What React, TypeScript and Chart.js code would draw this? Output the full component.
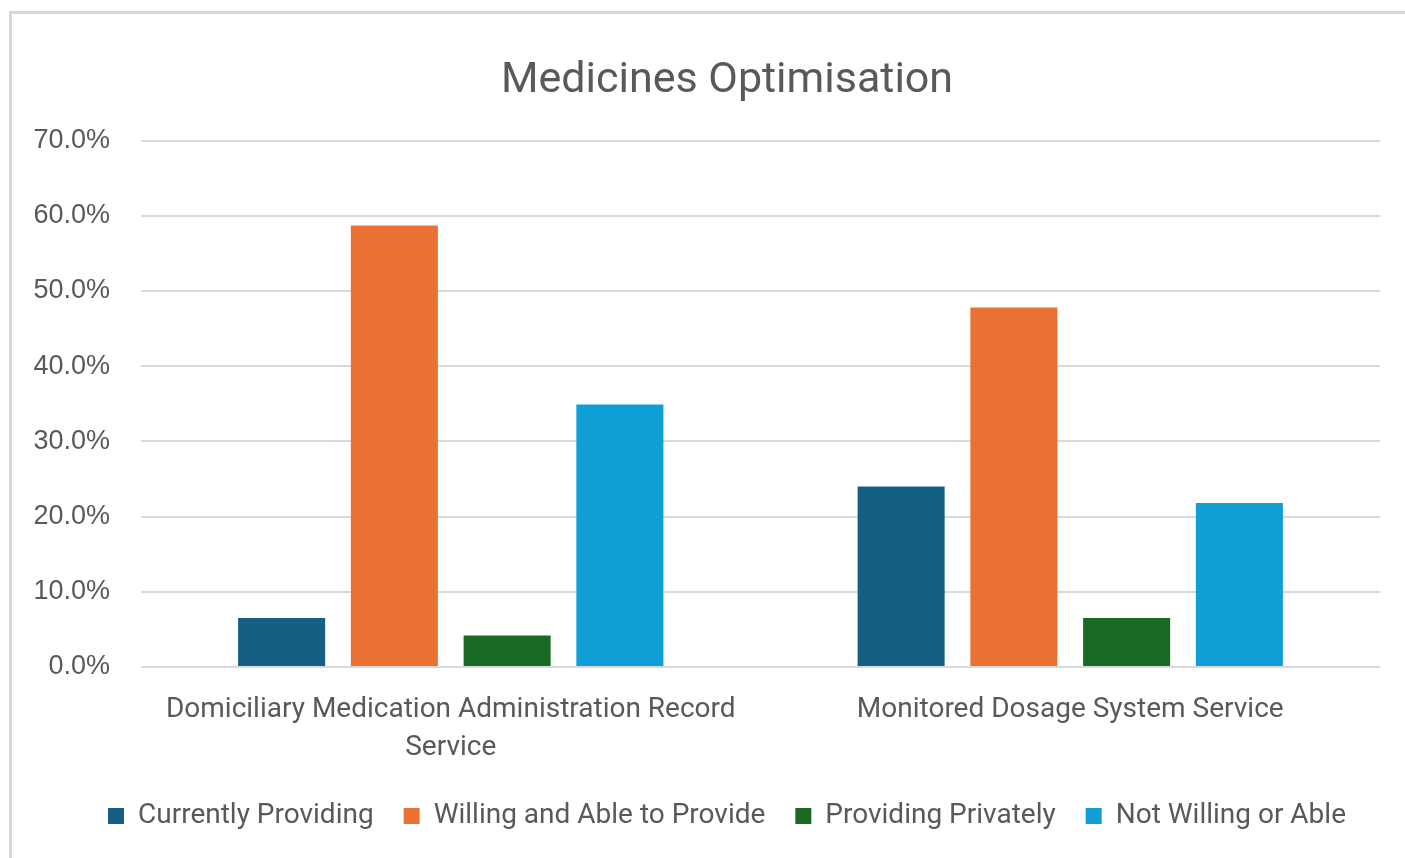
import React, { useEffect, useRef } from "react";
import { Chart, registerables } from "chart.js";

Chart.register(...registerables);

const title = "Medicines Optimisation";
const categories: (string | string[])[] = [
  ["Domiciliary Medication Administration Record", "Service"],
  "Monitored Dosage System Service",
];
const seriesNames = [
  "Currently Providing",
  "Willing and Able to Provide",
  "Providing Privately",
  "Not Willing or Able",
];
const currentlyProviding = [6.5, 24.0];
const willingAndAble = [58.7, 47.8];
const providingPrivately = [4.2, 6.5];
const notWillingOrAble = [34.9, 21.8];
const seriesColors = ["#156082", "#E97132", "#196B24", "#0F9ED5"];
const yMin = 0;
const yMax = 70;
const yStep = 10;

export default function App() {
  const ref = useRef<HTMLCanvasElement | null>(null);

  useEffect(() => {
    if (!ref.current) return;
    const values = [currentlyProviding, willingAndAble, providingPrivately, notWillingOrAble];
    const chart = new Chart(ref.current, {
      type: "bar",
      data: {
        labels: categories,
        datasets: seriesNames.map((name, i) => ({
          label: name,
          data: values[i],
          backgroundColor: seriesColors[i],
          borderWidth: 0,
          categoryPercentage: 0.728,
          barPercentage: 0.772,
          yAxisID: "y",
        })),
      },
      options: {
        responsive: false,
        animation: false,
        layout: { padding: { left: 20, right: 0, top: 0, bottom: 18 } },
        plugins: {
          title: {
            display: true,
            text: title,
            color: "#595959",
            font: { family: "Roboto", size: 43, weight: "normal", lineHeight: 1.2 },
            padding: { top: 55, bottom: 34 },
          },
          legend: {
            position: "bottom",
            labels: {
              color: "#595959",
              font: { family: "Roboto", size: 28 },
              boxWidth: 16,
              boxHeight: 16,
              padding: 30,
            },
          },
          tooltip: { enabled: false },
        },
        scales: {
          x: {
            afterFit: (scale: any) => {
              scale.height = 105;
            },
            grid: { display: false, drawTicks: false },
            border: { display: false },
            ticks: {
              color: "#595959",
              font: { family: "Roboto", size: 28, lineHeight: 1.36 },
              padding: 24,
              maxRotation: 0,
              autoSkip: false,
            },
          },
          y: {
            min: yMin,
            max: yMax,
            afterFit: (scale: any) => {
              scale.width = 121;
            },
            grid: { color: "#d9d9d9", lineWidth: 2, drawTicks: false },
            border: { display: false },
            ticks: {
              stepSize: yStep,
              color: "#595959",
              padding: 31,
              font: { family: "Liberation Sans", size: 27 },
              callback: (v: any) => `${Number(v).toFixed(1)}%`,
            },
          },
          spacer: {
            type: "linear",
            position: "right",
            display: true,
            afterFit: (scale: any) => {
              scale.width = 54;
            },
            grid: { display: false, drawTicks: false },
            border: { display: false },
            ticks: { display: false },
          },
        },
      },
    });
    return () => chart.destroy();
  }, []);

  return (
    <>
      <canvas
        ref={ref}
        width={1434}
        height={858}
        style={{ position: "fixed", left: 0, top: 0, width: 1434, height: 858, background: "#ffffff" }}
      />
      <div
        style={{
          position: "fixed",
          left: 9,
          top: 11,
          width: 1500,
          height: 1000,
          borderLeft: "3px solid #d9d9d9",
          borderTop: "3px solid #d9d9d9",
          pointerEvents: "none",
        }}
      />
    </>
  );
}
